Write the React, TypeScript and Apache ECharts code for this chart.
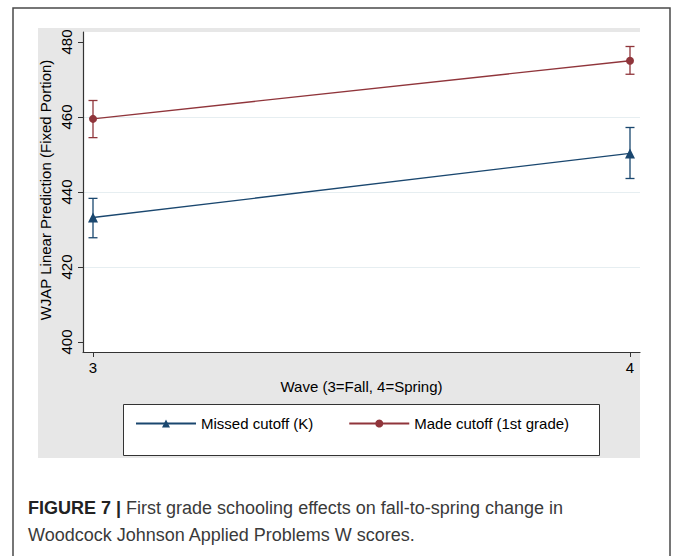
import React, { useEffect, useRef } from "react";
import * as echarts from "echarts";

const waves = [3, 4];
const missedMean = [433.2, 450.3];
const missedLo = [427.8, 443.6];
const missedHi = [438.3, 457.2];
const madeMean = [459.5, 475.0];
const madeLo = [454.5, 471.4];
const madeHi = [464.4, 478.8];
const yTicks = [400, 420, 440, 460, 480];
const xTicks = [3, 4];
const seriesNames = ["Missed cutoff (K)", "Made cutoff (1st grade)"];
const yTitle = "WJAP Linear Prediction (Fixed Portion)";
const xTitle = "Wave (3=Fall, 4=Spring)";
const captionBold = "FIGURE 7 |";
const captionLine1 = " First grade schooling effects on fall-to-spring change in";
const captionLine2 = "Woodcock Johnson Applied Problems W scores.";

const BLUE = "#1a476f";
const RED = "#90353b";
const FONT = "Liberation Sans, Arial, sans-serif";

function errorSeries(name: string, lo: number[], hi: number[], color: string) {
  return {
    type: "custom",
    name,
    data: waves.map((w, i) => [w, lo[i], hi[i]]),
    encode: { x: 0, y: [1, 2] },
    z: 2,
    renderItem: (params: any, api: any) => {
      const x = api.value(0);
      const pLo = api.coord([x, api.value(1)]);
      const pHi = api.coord([x, api.value(2)]);
      const cap = 4.5;
      const st = { stroke: color, lineWidth: 1.3 };
      return {
        type: "group",
        children: [
          { type: "line", shape: { x1: pLo[0], y1: pLo[1], x2: pHi[0], y2: pHi[1] }, style: st },
          { type: "line", shape: { x1: pLo[0] - cap, y1: pLo[1], x2: pLo[0] + cap, y2: pLo[1] }, style: st },
          { type: "line", shape: { x1: pHi[0] - cap, y1: pHi[1], x2: pHi[0] + cap, y2: pHi[1] }, style: st },
        ],
      };
    },
  };
}

export default function App() {
  const ref = useRef<HTMLDivElement>(null);
  useEffect(() => {
    if (!ref.current) return;
    const chart = echarts.init(ref.current, undefined, { renderer: "svg" });
    const option: any = {
      animation: false,
      graphic: [
        { type: "rect", z: -20, shape: { x: 38, y: 28, width: 602, height: 430 }, style: { fill: "#e7e7e7" } },
        { type: "rect", z: -15, shape: { x: 83, y: 32, width: 557, height: 320 }, style: { fill: "#ffffff" } },
        { type: "rect", z: -20, shape: { x: 13, y: 8, width: 657, height: 620 }, style: { fill: "none", stroke: "#4a4a4a", lineWidth: 1.5 } },
        { type: "rect", z: -10, shape: { x: 123.5, y: 404.5, width: 476, height: 51 }, style: { fill: "#ffffff", stroke: "#333", lineWidth: 1 } },
        {
          type: "text",
          x: 45,
          y: 190,
          rotation: Math.PI / 2,
          style: { text: yTitle, fontFamily: FONT, fontSize: 15, fill: "#000", align: "center", verticalAlign: "middle" },
        },
        {
          type: "text",
          x: 361.5,
          y: 386,
          style: { text: xTitle, fontFamily: FONT, fontSize: 15, fill: "#000", align: "center", verticalAlign: "middle" },
        },
        {
          type: "text",
          x: 28,
          y: 494,
          style: {
            text: "{b|" + captionBold + "}" + captionLine1 + "\n" + captionLine2,
            fontFamily: FONT,
            fontSize: 18,
            lineHeight: 27,
            fill: "#3a3a3a",
            rich: { b: { fontWeight: "bold", fontFamily: FONT, fontSize: 18, fill: "#222", lineHeight: 27 } },
          },
        },
      ],
      grid: { left: 83, top: 32, width: 557, height: 320, show: false },
      legend: {
        left: 130,
        top: 411,
        itemWidth: 60,
        itemHeight: 10,
        itemGap: 35,
        data: seriesNames,
        textStyle: { fontFamily: FONT, fontSize: 15, color: "#000" },
      },
      xAxis: {
        type: "value",
        min: 3 - 10 / 537,
        max: 4 + 10 / 537,
        axisLine: { show: true, onZero: false, lineStyle: { color: "#333", width: 1.2 } },
        axisTick: { show: true, length: 5, customValues: xTicks, lineStyle: { color: "#333" } },
        axisLabel: { customValues: xTicks, fontFamily: FONT, fontSize: 15, color: "#000", margin: 8 },
        splitLine: { show: false },
      },
      yAxis: {
        type: "value",
        min: 400 - 10 / 3.75,
        max: 480 + 10 / 3.75,
        interval: 20,
        axisLine: { show: true, onZero: false, lineStyle: { color: "#333", width: 1.2 } },
        axisTick: { show: true, length: 5, customValues: yTicks, lineStyle: { color: "#333" } },
        axisLabel: { customValues: yTicks, rotate: 90, fontFamily: FONT, fontSize: 15, color: "#000", margin: 9 },
        splitLine: { show: true, showMinLine: false, showMaxLine: false, lineStyle: { color: "#e6eef1", width: 1 } },
      },
      series: [
        errorSeries("errMissed", missedLo, missedHi, BLUE),
        errorSeries("errMade", madeLo, madeHi, RED),
        {
          type: "line",
          name: seriesNames[0],
          data: waves.map((w, i) => [w, missedMean[i]]),
          symbol: "triangle",
          symbolSize: 10,
          itemStyle: { color: BLUE },
          lineStyle: { color: BLUE, width: 1.3 },
          z: 3,
        },
        {
          type: "line",
          name: seriesNames[1],
          data: waves.map((w, i) => [w, madeMean[i]]),
          symbol: "circle",
          symbolSize: 8,
          itemStyle: { color: RED },
          lineStyle: { color: RED, width: 1.3 },
          z: 3,
        },
      ],
    };
    chart.setOption(option);
    return () => chart.dispose();
  }, []);
  return (
    <div
      ref={ref}
      style={{ position: "absolute", left: 0, top: 0, width: 675, height: 556, background: "#fff" }}
    />
  );
}
